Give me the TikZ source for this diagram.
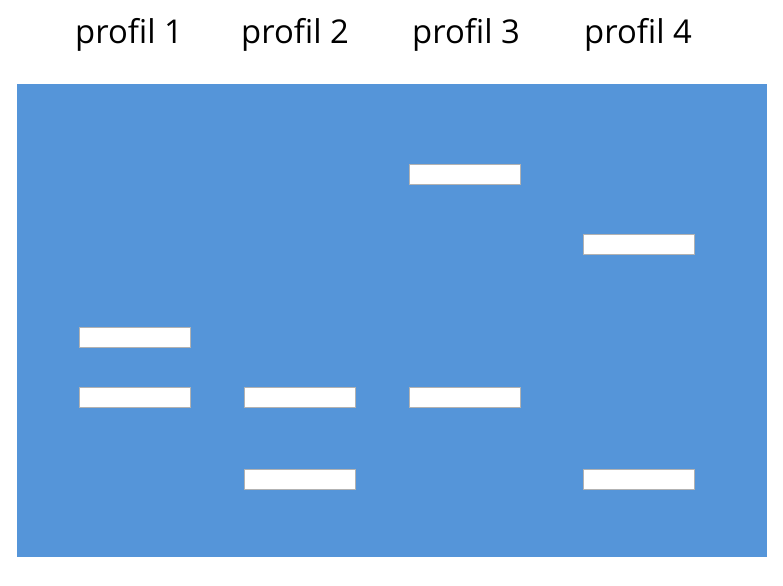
\documentclass[tikz,border=0pt]{standalone}
\usepackage{fontspec}
\setmainfont{Open Sans}
\definecolor{gel}{HTML}{5595D9}
\begin{document}
\begin{tikzpicture}[x=0.03cm,y=-0.03cm]
  \tikzset{band/.style={draw=gray!60,fill=white,line width=0.4pt},
           lane/.style={font=\fontsize{28}{32}\selectfont,inner sep=0pt}}
  \useasboundingbox (0,0) rectangle (783,585);
  \fill[gel] (17,84) rectangle (767,557);
  \node[lane] (p1) at (129,35) {profil 1};
  \node[lane] (p2) at (295,35) {profil 2};
  \node[lane] (p3) at (466,35) {profil 3};
  \node[lane] (p4) at (638,35) {profil 4};
  % bands: x, y of top left corner
  \foreach \x/\y in {79/327,79/387,244/387,244/469,409/164,409/387,583/234,583/469}
    \draw[band] (\x,\y) rectangle ++(111,20);
\end{tikzpicture}
\end{document}
